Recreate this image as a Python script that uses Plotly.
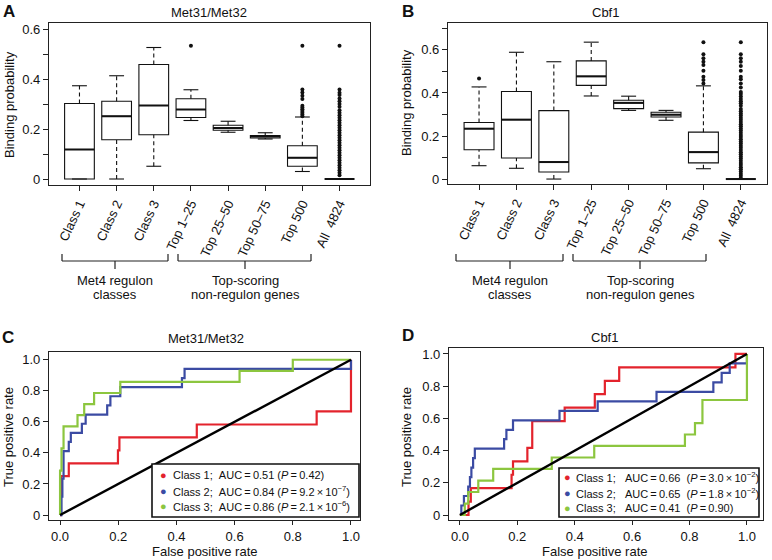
import plotly.graph_objects as go

W, H = 772, 560
FONT = "Liberation Sans, Arial, Helvetica, sans-serif"

# ---------------- Box-plot data (panels A, B) ----------------
box_labels = ["Class 1", "Class 2", "Class 3", "Top 1–25", "Top 25–50",
              "Top 50–75", "Top 500", "All\u00a0\u00a04824"]

# Met31/Met32 (A)
a_lo = [0.0, 0.0, 0.051, 0.234, 0.187, 0.160, 0.030, 0.0]
a_q1 = [0.0, 0.157, 0.177, 0.246, 0.195, 0.164, 0.051, 0.0]
a_med = [0.118, 0.251, 0.294, 0.278, 0.204, 0.170, 0.085, 0.0]
a_q3 = [0.302, 0.311, 0.458, 0.321, 0.215, 0.174, 0.133, 0.0]
a_hi = [0.373, 0.413, 0.526, 0.357, 0.231, 0.185, 0.248, 0.0]
a_outliers = [
    [], [], [], [0.533], [], [],
    [0.251, 0.258, 0.265, 0.272, 0.279, 0.286, 0.293, 0.320, 0.333, 0.346, 0.358, 0.533],
    [0.015, 0.025, 0.035, 0.045, 0.055, 0.065, 0.075, 0.085, 0.095, 0.105, 0.115,
     0.125, 0.135, 0.145, 0.155, 0.165, 0.175, 0.185, 0.195, 0.205, 0.215, 0.225,
     0.235, 0.245, 0.255, 0.265, 0.275, 0.289, 0.300, 0.311, 0.322, 0.336, 0.345,
     0.358, 0.533],
]

# Cbf1 (B)
b_lo = [0.062, 0.050, 0.0, 0.386, 0.319, 0.273, 0.048, 0.0]
b_q1 = [0.136, 0.098, 0.033, 0.435, 0.327, 0.288, 0.075, 0.0]
b_med = [0.234, 0.276, 0.079, 0.477, 0.354, 0.299, 0.125, 0.0]
b_q3 = [0.263, 0.407, 0.318, 0.549, 0.366, 0.310, 0.218, 0.0]
b_hi = [0.428, 0.589, 0.545, 0.636, 0.385, 0.319, 0.433, 0.0]
b_outliers = [
    [0.467], [], [], [], [], [],
    [0.444, 0.460, 0.475, 0.503, 0.530, 0.545, 0.561, 0.580, 0.636],
    [0.005, 0.015, 0.025, 0.035, 0.045, 0.055, 0.065, 0.075, 0.085, 0.095, 0.105,
     0.115, 0.125, 0.135, 0.145, 0.155, 0.165, 0.175, 0.185, 0.195, 0.205, 0.215,
     0.225, 0.235, 0.245, 0.255, 0.265, 0.275, 0.285, 0.295, 0.305, 0.315, 0.325,
     0.340, 0.352, 0.362, 0.372, 0.383, 0.395, 0.405, 0.425, 0.444, 0.464, 0.475,
     0.503, 0.525, 0.545, 0.561, 0.580, 0.636],
]

# ---------------- ROC data (panels C, D) ----------------
roc_colors = ["#E3232C", "#3B4BA3", "#8CC63F"]

c_names = [
    "Class 1;\u00a0\u00a0AUC\u2009=\u20090.51 (<i>P</i>\u2009=\u20090.42)",
    "Class 2;\u00a0\u00a0AUC\u2009=\u20090.84 (<i>P</i>\u2009=\u20099.2\u2009×\u200910<sup>−7</sup>)",
    "Class 3;\u00a0\u00a0AUC\u2009=\u20090.86 (<i>P</i>\u2009=\u20092.1\u2009×\u200910<sup>−6</sup>)",
]
c1_fpr = [0, 0.003, 0.003, 0.030, 0.030, 0.199, 0.199, 0.204, 0.204, 0.470, 0.470, 0.882, 0.882, 1.0, 1.0]
c1_tpr = [0, 0, 0.250, 0.250, 0.333, 0.333, 0.417, 0.417, 0.500, 0.500, 0.583, 0.583, 0.667, 0.667, 1.0]
c2_fpr = [0, 0.005, 0.005, 0.008, 0.008, 0.012, 0.012, 0.030, 0.030, 0.037, 0.037, 0.075, 0.075,
          0.088, 0.088, 0.162, 0.162, 0.173, 0.173, 0.207, 0.207, 0.419, 0.419, 0.428, 0.428, 1.0, 1.0]
c2_tpr = [0, 0, 0.118, 0.118, 0.235, 0.235, 0.412, 0.412, 0.471, 0.471, 0.529, 0.529, 0.588,
          0.588, 0.647, 0.647, 0.706, 0.706, 0.765, 0.765, 0.824, 0.824, 0.882, 0.882, 0.941, 0.941, 1.0]
c3_fpr = [0, 0, 0.005, 0.005, 0.012, 0.012, 0.060, 0.060, 0.083, 0.083, 0.117, 0.117, 0.207, 0.207,
          0.617, 0.617, 0.800, 0.800, 1.0]
c3_tpr = [0, 0.286, 0.286, 0.429, 0.429, 0.571, 0.571, 0.643, 0.643, 0.714, 0.714, 0.786, 0.786, 0.857,
          0.857, 0.929, 0.929, 1.0, 1.0]

d_names = [
    "Class 1;\u00a0\u00a0\u00a0AUC\u2009=\u20090.66\u00a0\u00a0(<i>P</i>\u2009=\u20093.0\u2009×\u200910<sup>−2</sup>)",
    "Class 2;\u00a0\u00a0\u00a0AUC\u2009=\u20090.65\u00a0\u00a0(<i>P</i>\u2009=\u20091.8\u2009×\u200910<sup>−2</sup>)",
    "Class 3;\u00a0\u00a0\u00a0AUC\u2009=\u20090.41\u00a0\u00a0(<i>P</i>\u2009=\u20090.90)",
]
d1_fpr = [0, 0.030, 0.030, 0.038, 0.038, 0.180, 0.180, 0.185, 0.185, 0.235, 0.235, 0.252, 0.252,
          0.365, 0.365, 0.470, 0.470, 0.505, 0.505, 0.555, 0.555, 0.960, 0.960, 1.0]
d1_tpr = [0, 0, 0.083, 0.083, 0.167, 0.167, 0.250, 0.250, 0.333, 0.333, 0.417, 0.417, 0.583,
          0.583, 0.667, 0.667, 0.750, 0.750, 0.833, 0.833, 0.917, 0.917, 1.0, 1.0]
d2_fpr = [0, 0.005, 0.005, 0.014, 0.014, 0.029, 0.029, 0.035, 0.035, 0.040, 0.040, 0.046, 0.046,
          0.052, 0.052, 0.154, 0.154, 0.162, 0.162, 0.185, 0.185, 0.347, 0.347, 0.480, 0.480,
          0.685, 0.685, 0.883, 0.883, 0.912, 0.912, 0.940, 0.940, 1.0, 1.0]
d2_tpr = [0, 0, 0.059, 0.059, 0.118, 0.118, 0.176, 0.176, 0.235, 0.235, 0.294, 0.294, 0.353,
          0.353, 0.412, 0.412, 0.471, 0.471, 0.529, 0.529, 0.588, 0.588, 0.647, 0.647, 0.706,
          0.706, 0.765, 0.765, 0.824, 0.824, 0.882, 0.882, 0.941, 0.941, 1.0]
d3_fpr = [0, 0.017, 0.017, 0.029, 0.029, 0.064, 0.064, 0.116, 0.116, 0.320, 0.320, 0.468, 0.468,
          0.784, 0.784, 0.819, 0.819, 0.845, 0.845, 1.0, 1.0]
d3_tpr = [0, 0, 0.071, 0.071, 0.143, 0.143, 0.214, 0.214, 0.286, 0.286, 0.357, 0.357, 0.429,
          0.429, 0.500, 0.500, 0.571, 0.571, 0.714, 0.714, 1.0]

diag = [0, 1]

# ---------------- helpers ----------------
def px_x(p):
    return p / W

def px_y(p):
    return 1 - p / H

fig = go.Figure()

BOX_HALF = 0.4
CAP_HALF = 0.2
INK = "#111"


def add_boxplot(lo, q1, med, q3, hi, outs, xa, ya):
    pos = list(range(1, len(q1) + 1))
    fig.add_trace(go.Box(
        x=pos, q1=q1, median=med, q3=q3, lowerfence=q1, upperfence=q3,
        width=2 * BOX_HALF, fillcolor="white", whiskerwidth=0,
        line=dict(color=INK, width=1.1), boxpoints=False,
        xaxis=xa, yaxis=ya, showlegend=False, hoverinfo="skip"))
    wx, wy = [], []
    for i, p in enumerate(pos):
        if hi[i] > q3[i]:
            wx += [p, p, None]; wy += [q3[i], hi[i], None]
        if lo[i] < q1[i]:
            wx += [p, p, None]; wy += [lo[i], q1[i], None]
    fig.add_trace(go.Scatter(x=wx, y=wy, mode="lines",
                             line=dict(color=INK, width=1.1, dash="4px,3px"),
                             xaxis=xa, yaxis=ya, showlegend=False, hoverinfo="skip"))
    sx, sy = [], []
    for i, p in enumerate(pos):
        if hi[i] > q3[i]:
            sx += [p - CAP_HALF, p + CAP_HALF, None]; sy += [hi[i], hi[i], None]
        if lo[i] < q1[i] or lo[i] == 0:
            sx += [p - CAP_HALF, p + CAP_HALF, None]; sy += [lo[i], lo[i], None]
    fig.add_trace(go.Scatter(x=sx, y=sy, mode="lines",
                             line=dict(color=INK, width=1.1),
                             xaxis=xa, yaxis=ya, showlegend=False, hoverinfo="skip"))
    mx, my = [], []
    for i, p in enumerate(pos):
        mx += [p - BOX_HALF, p + BOX_HALF, None]; my += [med[i], med[i], None]
    fig.add_trace(go.Scatter(x=mx, y=my, mode="lines",
                             line=dict(color=INK, width=2),
                             xaxis=xa, yaxis=ya, showlegend=False, hoverinfo="skip"))
    ox, oy = [], []
    for i, p in enumerate(pos):
        ox += [p] * len(outs[i]); oy += outs[i]
    fig.add_trace(go.Scatter(x=ox, y=oy, mode="markers",
                             marker=dict(color=INK, size=4),
                             xaxis=xa, yaxis=ya, showlegend=False, hoverinfo="skip"))


add_boxplot(a_lo, a_q1, a_med, a_q3, a_hi, a_outliers, "x", "y")
add_boxplot(b_lo, b_q1, b_med, b_q3, b_hi, b_outliers, "x2", "y2")


def add_roc(curves, names, xa, ya):
    for (fx, ty), col, name in zip(curves, roc_colors, names):
        fig.add_trace(go.Scatter(x=fx, y=ty, mode="lines", line=dict(color=col, width=2.2),
                                 name=name, xaxis=xa, yaxis=ya, showlegend=False, hoverinfo="skip"))
    fig.add_trace(go.Scatter(x=diag, y=diag, mode="lines", line=dict(color="black", width=2.4),
                             xaxis=xa, yaxis=ya, showlegend=False, hoverinfo="skip"))


add_roc([(c1_fpr, c1_tpr), (c2_fpr, c2_tpr), (c3_fpr, c3_tpr)], c_names, "x3", "y3")
add_roc([(d1_fpr, d1_tpr), (d2_fpr, d2_tpr), (d3_fpr, d3_tpr)], d_names, "x4", "y4")

axis_common = dict(showline=True, mirror=True, linecolor="#222", linewidth=1.1,
                   ticks="outside", ticklen=5, tickwidth=1, tickcolor="#222",
                   showgrid=False, zeroline=False, fixedrange=True,
                   tickfont=dict(family=FONT, size=13, color=INK))
roc_x_axis = dict(axis_common, ticklen=4)
minor_ticks = dict(dtick=0.1, tick0=0, ticks="outside", ticklen=5, tickwidth=1,
                   tickcolor="#222", showgrid=False)

box_y_vals = [0, 0.2, 0.4, 0.6]
box_y_text = ["0", "0.2", "0.4", "0.6"]
roc_vals = [0, 0.2, 0.4, 0.6, 0.8, 1.0]
roc_x_text = ["0.0", "0.2", "0.4", "0.6", "0.8", "1.0"]
roc_y_text = ["0", "0.2", "0.4", "0.6", "0.8", "1.0"]

fig.update_layout(
    width=W, height=H, margin=dict(l=0, r=0, t=0, b=0, autoexpand=False),
    paper_bgcolor="white", plot_bgcolor="white", showlegend=False,
    font=dict(family=FONT, size=13, color=INK),
    xaxis=dict(domain=[px_x(49), px_x(370)], range=[0.18, 8.82], anchor="y",
               tickvals=list(range(1, 9)), ticktext=box_labels, tickangle=-65, **axis_common),
    yaxis=dict(domain=[px_y(185), px_y(23)], range=[-0.024, 0.624], anchor="x",
               tickvals=box_y_vals, ticktext=box_y_text, minor=minor_ticks, **axis_common),
    xaxis2=dict(domain=[px_x(448), px_x(767)], range=[0.17, 8.7], anchor="y2",
                tickvals=list(range(1, 9)), ticktext=box_labels, tickangle=-65, **axis_common),
    yaxis2=dict(domain=[px_y(184), px_y(23)], range=[-0.023, 0.725], anchor="x2",
                tickvals=box_y_vals, ticktext=box_y_text, minor=minor_ticks, **axis_common),
    xaxis3=dict(domain=[px_x(49), px_x(360)], range=[-0.038, 1.031], anchor="y3",
                tickvals=roc_vals, ticktext=roc_x_text, **roc_x_axis),
    yaxis3=dict(domain=[px_y(520), px_y(352)], range=[-0.032, 1.05], anchor="x3",
                tickvals=roc_vals, ticktext=roc_y_text, **axis_common),
    xaxis4=dict(domain=[px_x(449), px_x(763)], range=[-0.038, 1.056], anchor="y4",
                tickvals=roc_vals, ticktext=roc_x_text, **roc_x_axis),
    yaxis4=dict(domain=[px_y(520), px_y(348)], range=[-0.031, 1.037], anchor="x4",
                tickvals=roc_vals, ticktext=roc_y_text, **axis_common),
)

ann = []
shapes = []


def text(x, y, s, size=13, bold=False, angle=0, xanchor="center", yanchor="middle", color=INK):
    ann.append(dict(x=px_x(x), y=px_y(y), xref="paper", yref="paper",
                    text=f"<b>{s}</b>" if bold else s,
                    showarrow=False, textangle=angle, xanchor=xanchor, yanchor=yanchor,
                    font=dict(family=FONT, size=size, color=color)))


# panel letters
text(9, 11, "A", size=17, bold=True)
text(408, 11, "B", size=17, bold=True)
text(8, 337, "C", size=17, bold=True)
text(408, 335, "D", size=17, bold=True)
# titles
text(209, 12, "Met31/Met32")
text(605, 12, "Cbf1")
text(206, 338, "Met31/Met32")
text(604, 337, "Cbf1")
# axis titles
text(9, 105, "Binding probability", angle=-90)
text(406, 103, "Binding probability", angle=-90)
text(8, 437, "True positive rate", angle=-90)
text(406, 437, "True positive rate", angle=-90)
text(205, 551, "False positive rate")
text(595, 551, "False positive rate")
# bracket labels
text(115, 280, "Met4 regulon")
text(115, 294, "classes")
text(245, 280, "Top-scoring")
text(245, 294, "non-regulon genes")
text(510, 280, "Met4 regulon")
text(510, 294, "classes")
text(640, 280, "Top-scoring")
text(640, 294, "non-regulon genes")


def bracket(x0, x1, xc):
    line = dict(color="#222", width=1.2)
    shapes.append(dict(type="line", xref="paper", yref="paper", x0=px_x(x0), x1=px_x(x1),
                       y0=px_y(261), y1=px_y(261), line=line))
    for xx in (x0, x1):
        shapes.append(dict(type="line", xref="paper", yref="paper", x0=px_x(xx), x1=px_x(xx),
                           y0=px_y(254), y1=px_y(261), line=line))
    shapes.append(dict(type="line", xref="paper", yref="paper", x0=px_x(xc), x1=px_x(xc),
                       y0=px_y(261), y1=px_y(269), line=line))


bracket(62, 168, 115)
bracket(178, 311, 245)
bracket(456, 563, 510)
bracket(573, 706, 640)


def legend_box(x0, x1, y0, y1, rows, dot_x, txt_x, names):
    shapes.append(dict(type="rect", xref="paper", yref="paper", layer="above",
                       x0=px_x(x0), x1=px_x(x1), y0=px_y(y1), y1=px_y(y0),
                       fillcolor="white", line=dict(color=INK, width=1.6)))
    for ry, name, col in zip(rows, names, roc_colors):
        text(dot_x, ry, "●", size=11, color=col)
        text(txt_x, ry, name, size=11, xanchor="left")


legend_box(152, 359, 464, 517, [475, 490.5, 505.5], 163, 171, c_names)
legend_box(559, 759, 468, 517, [477, 492.5, 507.5], 567.5, 573.5, d_names)

fig.update_layout(annotations=ann, shapes=shapes)

fig.write_html("out.html", config={"displayModeBar": False},
               post_script="document.body.style.margin='0px';document.body.style.padding='0px';")
